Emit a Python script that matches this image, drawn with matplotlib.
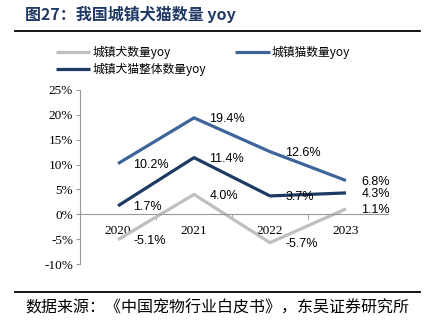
import matplotlib.pyplot as plt
from matplotlib.lines import Line2D

plt.rcParams['font.family'] = ['Noto Sans CJK SC', 'DejaVu Sans']

years = ['2020', '2021', '2022', '2023']
dog_yoy = [-5.1, 4.0, -5.7, 1.1]
cat_yoy = [10.2, 19.4, 12.6, 6.8]
total_yoy = [1.7, 11.4, 3.7, 4.3]

series = [
    ('城镇犬数量yoy', dog_yoy, '#BFBFBF'),
    ('城镇猫数量yoy', cat_yoy, '#3D659B'),
    ('城镇犬猫整体数量yoy', total_yoy, '#1C3A63'),
]

fig = plt.figure(figsize=(4.29, 3.22), dpi=100)
ax = fig.add_axes([0.1865, 0.180, 0.7085, 0.5405])

x = list(range(len(years)))
handles = {}
for name, vals, color in series:
    ln, = ax.plot(x, vals, color=color, lw=2.3, solid_capstyle='butt')
    handles[name] = ln
    for xi, v in zip(x, vals):
        ax.annotate(f'{v:.1f}%', (xi, v), xytext=(11, -1), textcoords='offset points',
                    ha='left', va='center', fontsize=9, family='Liberation Sans',
                    color='black')

ax.set_xlim(-0.5, 3.5)
ax.set_ylim(-10, 25)
ax.set_yticks(range(-10, 26, 5))
ax.set_yticklabels([f'{t}%' for t in range(-10, 26, 5)], family='Liberation Serif', fontsize=9.5)

ax.spines['top'].set_visible(False)
ax.spines['right'].set_visible(False)
ax.spines['left'].set_color('#999999')
ax.spines['bottom'].set_position(('data', 0))
ax.spines['bottom'].set_color('#999999')
ax.spines['bottom'].set_bounds(-0.5, 3.55)

ax.set_xticks(x)
ax.set_xticklabels(years, family='Liberation Serif', fontsize=9.5)
ax.set_xticks([0.5, 1.5, 2.5], minor=True)
ax.tick_params(axis='x', which='major', length=0, pad=8)
ax.tick_params(axis='x', which='minor', length=4, direction='out', color='#999999')
ax.tick_params(axis='y', length=3, color='#999999', pad=2)

order = ['城镇犬数量yoy', '城镇犬猫整体数量yoy', '城镇猫数量yoy']
leg = fig.legend([handles[k] for k in order], order, ncol=2, frameon=False,
                 loc='upper left', bbox_to_anchor=(0.105, 0.89), fontsize=8.5,
                 handlelength=2.9, handletextpad=0.2, columnspacing=2.5,
                 labelspacing=0.3)

# header and footer
fig.text(0.058, 0.955, '图27：我国城镇犬猫数量 yoy', fontsize=11.5, fontweight='bold',
         color='#1F3864', va='center', ha='left')
fig.add_artist(Line2D([0.035, 0.98], [0.905, 0.905], color='black', lw=1.3))
fig.add_artist(Line2D([0.035, 0.98], [0.093, 0.093], color='black', lw=1.3))
fig.text(0.058, 0.042, '数据来源：《中国宠物行业白皮书》，东吴证券研究所', fontsize=11.5,
         color='black', va='center', ha='left')

fig.savefig('out.png', dpi=100)
